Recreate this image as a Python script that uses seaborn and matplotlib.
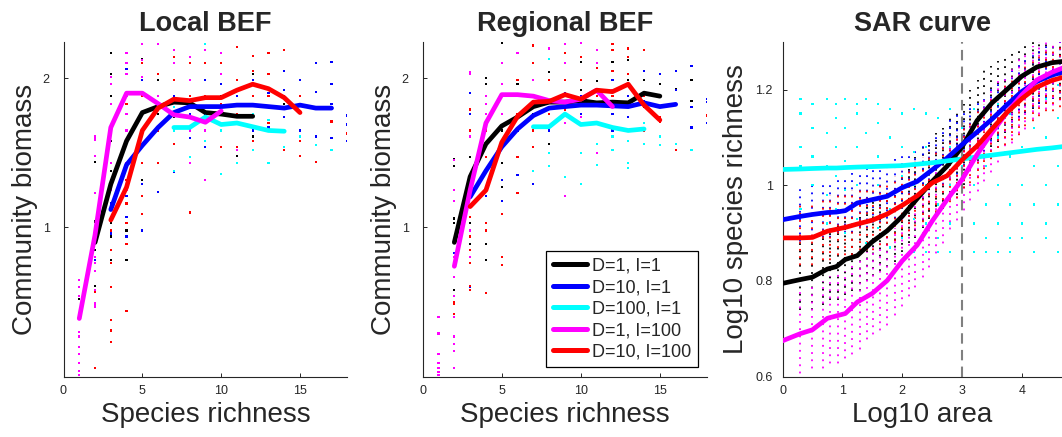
import pandas as pd
import matplotlib
matplotlib.use("Agg")
import matplotlib.pyplot as plt
from matplotlib.lines import Line2D
import seaborn as sns

# 五個處理組 (legend 順序) 與顏色
series_names = ["D=1, I=1", "D=10, I=1", "D=100, I=1", "D=1, I=100", "D=10, I=100"]
series_colors = ["#000000", "#0000ff", "#00ffff", "#ff00ff", "#ff0000"]

# ---------------- Local BEF：平均線 ----------------
local_x_black = [2, 3, 4, 5, 6, 7, 8, 9, 10, 11, 12]
local_y_black = [0.90, 1.29, 1.58, 1.77, 1.81, 1.84, 1.835, 1.77, 1.76, 1.745, 1.745]
local_x_blue = [3, 4, 5, 6, 7, 8, 9, 10, 11, 12, 13, 14, 15, 16, 17]
local_y_blue = [1.12, 1.42, 1.55, 1.67, 1.77, 1.81, 1.81, 1.81, 1.82, 1.82, 1.81, 1.80, 1.82, 1.80, 1.80]
local_x_cyan = [7, 8, 9, 10, 11, 12, 13, 14]
local_y_cyan = [1.67, 1.67, 1.74, 1.69, 1.70, 1.675, 1.65, 1.645]
local_x_magenta = [1, 2, 3, 4, 5, 6, 7, 8, 9, 10]
local_y_magenta = [0.39, 0.95, 1.67, 1.90, 1.90, 1.83, 1.755, 1.74, 1.705, 1.78]
local_x_red = [3, 4, 5, 6, 7, 8, 9, 10, 11, 12, 13, 14, 15]
local_y_red = [1.05, 1.27, 1.65, 1.80, 1.86, 1.85, 1.87, 1.87, 1.92, 1.96, 1.93, 1.87, 1.77]

# Local BEF：散點 {richness: [biomass, ...]}
local_dots_black = {1: [0.52], 2: [1.44, 1.04, 0.85, 0.61],
                    3: [2.17, 2.03, 1.88, 1.58, 1.38, 1.25, 1.14, 1.03, 0.94, 0.78],
                    4: [1.43, 1.21, 0.98, 0.78], 5: [2.13, 1.99, 1.76, 1.54, 1.32],
                    6: [1.99, 1.88, 1.76, 1.65], 7: [1.88, 1.74], 8: [1.88, 1.65], 9: [1.99, 1.70],
                    10: [1.88, 1.54], 11: [1.99, 1.48], 12: [2.03, 1.61], 13: [1.81], 14: [1.83]}
local_dots_blue = {2: [0.78, 0.71], 3: [1.29, 1.16, 1.07, 0.96],
                   4: [2.06, 1.88, 1.65, 1.43, 1.21, 1.07, 0.94], 5: [2.23, 1.99, 1.65, 1.29, 0.98],
                   6: [1.65, 1.43, 1.24], 7: [1.88, 1.65, 1.37], 8: [1.99, 1.76, 1.60],
                   9: [1.99, 1.76, 1.54], 10: [1.96, 1.76, 1.65], 11: [1.88, 1.70],
                   12: [1.99, 1.74, 1.65], 13: [1.90, 1.81, 1.67], 14: [2.05, 1.92, 1.74],
                   15: [1.99, 1.83, 1.65], 16: [2.10, 1.91, 1.61], 17: [2.11, 1.96, 1.83, 1.60],
                   18: [1.75, 1.69, 1.58]}
local_dots_cyan = {7: [1.81, 1.65, 1.38], 8: [1.65, 1.47], 9: [2.23, 1.88, 1.58, 1.32],
                   10: [1.76, 1.65, 1.36], 11: [1.76, 1.43], 12: [1.76, 1.52], 13: [1.72, 1.43],
                   14: [1.65, 1.54], 15: [1.61], 16: [1.55], 17: [1.52]}
local_dots_magenta = {1: [0.65, 0.60, 0.54, 0.30, 0.27, 0.20, 0.15, 0.09, 0.04, 0.01],
                      2: [1.61, 1.59, 1.48, 1.23, 0.80, 0.76, 0.71, 0.58, 0.49, 0.47],
                      3: [2.01, 1.96, 1.83, 1.65, 1.43, 1.25],
                      4: [2.17, 2.10, 2.03, 1.88, 1.76, 1.65, 1.43, 1.25],
                      5: [2.23, 2.12, 2.01, 1.88, 1.65], 6: [2.23, 2.03, 1.88], 7: [2.19, 2.10, 1.99],
                      8: [2.14, 1.99, 1.65, 1.43], 9: [2.19, 1.65, 1.32], 10: [2.17, 2.03], 11: [1.52]}
local_dots_red = {2: [0.57, 0.06], 3: [1.63, 1.32, 1.14, 0.98, 0.85, 0.76, 0.60, 0.38, 0.31, 0.23],
                  4: [1.83, 1.58, 1.32, 1.16, 1.03, 0.89, 0.44], 5: [2.10, 1.88, 1.65, 1.43, 1.21, 1.09],
                  6: [2.03, 1.83, 1.65, 1.43], 7: [2.14, 1.99, 1.76, 1.56], 8: [2.10, 1.88, 1.10],
                  9: [2.10, 1.88], 10: [2.10, 1.83, 1.54], 11: [2.21, 1.99, 1.76, 1.54],
                  12: [2.15, 2.05, 1.88, 1.58], 13: [2.17, 2.03, 1.88, 1.70],
                  14: [2.19, 1.88, 1.65, 1.52], 15: [1.88, 1.58, 1.48], 16: [1.44], 17: [1.71], 18: [1.63]}

# ---------------- Regional BEF：平均線 ----------------
reg_x_black = [2, 3, 4, 5, 6, 7, 8, 9, 10, 11, 12, 13, 14, 15]
reg_y_black = [0.90, 1.34, 1.56, 1.68, 1.74, 1.81, 1.84, 1.84, 1.85, 1.835, 1.84, 1.835, 1.90, 1.88]
reg_x_blue = [3, 4, 5, 6, 7, 8, 9, 10, 11, 12, 13, 14, 15, 16]
reg_y_blue = [1.205, 1.38, 1.54, 1.66, 1.75, 1.80, 1.81, 1.82, 1.82, 1.815, 1.81, 1.835, 1.81, 1.825]
reg_x_cyan = [7, 8, 9, 10, 11, 12, 13, 14]
reg_y_cyan = [1.675, 1.675, 1.76, 1.69, 1.70, 1.67, 1.65, 1.66]
reg_x_magenta = [2, 3, 4, 5, 6, 7, 8, 9, 10, 11, 12]
reg_y_magenta = [0.74, 1.25, 1.70, 1.89, 1.89, 1.88, 1.85, 1.84, 1.86, 1.92, 1.81]
reg_x_red = [3, 4, 5, 6, 7, 8, 9, 10, 11, 12, 13, 14, 15]
reg_y_red = [1.14, 1.25, 1.57, 1.745, 1.84, 1.845, 1.89, 1.86, 1.92, 1.91, 1.96, 1.82, 1.72]

# Regional BEF：散點
reg_dots_black = {2: [1.46, 1.41, 1.06, 1.03, 0.76, 0.58], 3: [1.47, 1.34, 1.03, 0.89, 0.80, 0.61],
                  4: [2.00, 1.96, 1.76, 0.98, 0.89, 0.78], 5: [2.24, 2.10, 1.88, 1.65, 1.43, 1.27],
                  6: [2.17, 1.96], 7: [1.76], 8: [2.04, 1.56], 9: [1.88], 10: [2.11, 1.92],
                  11: [1.98], 12: [2.11], 13: [2.12, 1.99], 14: [1.99, 1.81], 15: [2.03, 1.96],
                  16: [1.93], 17: [1.99, 1.85]}
reg_dots_blue = {2: [0.83], 3: [1.90, 1.76, 0.76, 0.60], 4: [1.38, 1.21], 5: [1.32, 1.18],
                 6: [1.65, 1.35], 7: [1.88, 1.54, 1.29], 8: [1.65], 9: [1.90, 1.76], 10: [1.88, 1.76],
                 11: [1.92, 1.70], 12: [1.99, 1.76, 1.65], 13: [1.88, 1.74], 14: [2.05, 1.85],
                 15: [2.03, 1.81], 16: [2.05, 1.92, 1.82], 17: [2.08, 1.81, 1.67], 18: [1.86, 1.84, 1.70]}
reg_dots_cyan = {7: [1.38], 8: [2.13, 1.50, 1.41], 9: [1.34], 10: [1.50, 1.29], 11: [1.56, 1.42],
                 12: [1.61, 1.52], 13: [1.58, 1.43, 1.40], 14: [1.70, 1.56], 15: [1.61, 1.55],
                 16: [1.56], 17: [1.52]}
reg_dots_magenta = {1: [0.40, 0.29, 0.15, 0.09, 0.06, 0.03, 0.01],
                    2: [1.45, 1.25, 1.18, 0.80, 0.67, 0.54, 0.40, 0.27, 0.22, 0.17, 0.06],
                    3: [2.04, 2.03, 1.61, 0.98, 0.80], 4: [1.88, 1.83, 1.76, 1.65, 1.38],
                    5: [2.10, 1.96, 1.76], 6: [2.17, 1.88], 7: [2.10, 1.99], 8: [2.20],
                    9: [2.23, 2.10, 1.70, 1.21], 10: [2.24, 1.99, 1.74], 11: [2.19, 2.10, 1.50], 12: [1.92]}
reg_dots_red = {2: [0.50, 0.49, 0.42], 3: [1.79, 1.65, 1.07, 0.94, 0.85, 0.76, 0.61, 0.58],
                4: [1.65, 1.47, 1.25, 1.03, 0.98, 0.56], 5: [1.88, 1.09, 0.80, 0.75],
                6: [1.99, 1.76, 1.47, 1.23], 7: [2.22, 2.10, 1.88, 1.65, 1.54], 8: [1.99, 1.76],
                9: [2.17, 1.99, 1.79], 10: [2.14, 1.99], 11: [2.07, 1.88], 12: [2.23, 2.19, 2.05, 1.88],
                13: [2.20, 2.14, 2.03], 14: [2.19, 1.88, 1.65], 15: [1.74, 1.71], 16: [1.52], 18: [1.75]}

# ---------------- SAR curve：平均線 ----------------
sar_line_x = [0, 0.3, 0.5, 0.75, 0.9, 1.05, 1.25, 1.5, 1.75, 2.0, 2.25, 2.5, 2.75,
              3.0, 3.25, 3.5, 3.75, 4.0, 4.25, 4.5, 4.7]
sar_y_black = [0.795, 0.803, 0.808, 0.825, 0.830, 0.845, 0.853, 0.882, 0.905, 0.935, 0.972, 1.008, 1.040,
               1.080, 1.135, 1.172, 1.200, 1.228, 1.247, 1.256, 1.259]
sar_y_blue = [0.928, 0.935, 0.939, 0.943, 0.944, 0.947, 0.963, 0.970, 0.977, 0.995, 1.008, 1.032, 1.057,
              1.085, 1.111, 1.138, 1.168, 1.196, 1.217, 1.230, 1.237]
sar_y_cyan = [1.033, 1.034, 1.035, 1.036, 1.036, 1.037, 1.038, 1.039, 1.040, 1.041, 1.044, 1.047, 1.051,
              1.055, 1.059, 1.063, 1.067, 1.071, 1.075, 1.078, 1.081]
sar_y_magenta = [0.675, 0.690, 0.698, 0.722, 0.727, 0.732, 0.756, 0.774, 0.801, 0.842, 0.875, 0.925, 0.970,
                 1.012, 1.064, 1.110, 1.152, 1.189, 1.220, 1.236, 1.246]
sar_y_red = [0.890, 0.890, 0.891, 0.904, 0.908, 0.912, 0.919, 0.927, 0.940, 0.958, 0.978, 1.005, 1.020,
             1.053, 1.082, 1.118, 1.152, 1.181, 1.205, 1.219, 1.226]

# SAR curve：每個取樣面積 (一欄) 的點雲範圍 (下緣, 上緣)
sar_col_x = [0, 0.29, 0.49, 0.68, 0.79, 0.93, 1.05, 1.16, 1.30, 1.41, 1.52, 1.63, 1.74, 1.88, 1.99, 2.11,
             2.22, 2.34, 2.45, 2.57, 2.68, 2.80, 2.91, 3.03, 3.14, 3.26, 3.37, 3.49, 3.60, 3.72, 3.83, 3.95,
             4.06, 4.18, 4.29, 4.41, 4.52, 4.64]
sar_lo_black = [0.73, 0.74, 0.74, 0.75, 0.76, 0.76, 0.77, 0.78, 0.78, 0.80, 0.81, 0.82, 0.83, 0.84, 0.86, 0.88,
                0.89, 0.91, 0.93, 0.94, 0.95, 0.97, 0.98, 1.00, 1.03, 1.05, 1.07, 1.08, 1.09, 1.11, 1.12, 1.14,
                1.15, 1.16, 1.17, 1.17, 1.18, 1.18]
sar_hi_black = [0.87, 0.88, 0.89, 0.90, 0.91, 0.92, 0.93, 0.94, 0.94, 0.96, 0.97, 0.98, 0.99, 1.00, 1.02, 1.04,
                1.06, 1.08, 1.09, 1.11, 1.12, 1.14, 1.15, 1.17, 1.20, 1.22, 1.24, 1.25, 1.26, 1.27, 1.28, 1.29,
                1.30, 1.30, 1.30, 1.30, 1.30, 1.30]
sar_lo_blue = [0.87, 0.87, 0.88, 0.88, 0.88, 0.89, 0.89, 0.89, 0.90, 0.90, 0.91, 0.91, 0.92, 0.92, 0.94, 0.94,
               0.95, 0.96, 0.97, 0.98, 0.99, 1.00, 1.01, 1.03, 1.04, 1.05, 1.06, 1.08, 1.09, 1.10, 1.12, 1.13,
               1.14, 1.15, 1.16, 1.17, 1.17, 1.18]
sar_hi_blue = [1.00, 1.00, 1.01, 1.01, 1.01, 1.02, 1.02, 1.03, 1.03, 1.04, 1.04, 1.04, 1.05, 1.06, 1.07, 1.07,
               1.08, 1.09, 1.10, 1.11, 1.12, 1.14, 1.15, 1.16, 1.17, 1.18, 1.19, 1.21, 1.22, 1.23, 1.25, 1.26,
               1.27, 1.28, 1.29, 1.30, 1.30, 1.30]
sar_lo_magenta = [0.60, 0.60, 0.61, 0.61, 0.62, 0.62, 0.63, 0.64, 0.65, 0.67, 0.68, 0.69, 0.70, 0.72, 0.74, 0.76,
                  0.78, 0.80, 0.82, 0.85, 0.87, 0.90, 0.92, 0.94, 0.96, 0.98, 1.00, 1.02, 1.04, 1.06, 1.08, 1.10,
                  1.11, 1.13, 1.14, 1.15, 1.16, 1.17]
sar_hi_magenta = [0.77, 0.78, 0.79, 0.80, 0.81, 0.82, 0.82, 0.84, 0.85, 0.86, 0.87, 0.88, 0.89, 0.91, 0.93, 0.95,
                  0.97, 0.99, 1.01, 1.03, 1.06, 1.08, 1.10, 1.11, 1.13, 1.15, 1.18, 1.20, 1.22, 1.23, 1.25, 1.27,
                  1.28, 1.29, 1.30, 1.30, 1.30, 1.30]
sar_lo_red = [0.83, 0.83, 0.83, 0.84, 0.84, 0.85, 0.85, 0.85, 0.86, 0.86, 0.86, 0.87, 0.87, 0.88, 0.89, 0.90,
              0.91, 0.92, 0.93, 0.94, 0.95, 0.96, 0.97, 0.99, 1.00, 1.01, 1.03, 1.05, 1.06, 1.08, 1.09, 1.10,
              1.12, 1.13, 1.14, 1.15, 1.15, 1.16]
sar_hi_red = [0.96, 0.96, 0.96, 0.97, 0.98, 0.98, 0.98, 0.99, 0.99, 0.99, 1.00, 1.00, 1.01, 1.02, 1.03, 1.04,
              1.05, 1.06, 1.07, 1.08, 1.09, 1.10, 1.11, 1.13, 1.14, 1.16, 1.17, 1.19, 1.20, 1.22, 1.23, 1.24,
              1.26, 1.27, 1.28, 1.29, 1.29, 1.29]

# D=100 的點較稀疏，逐點列出
sar_dot_x = [0, 0.3, 0.5, 0.75, 0.9, 1.05, 1.25, 1.4, 1.6, 1.8, 2.0, 2.2,
             2.4, 2.6, 2.8, 3.0, 3.2, 3.4, 3.6, 3.8, 4.0, 4.2, 4.4, 4.6]
sar_dots_cyan = [[0.92, 1.00, 1.08, 1.12, 1.16], [0.95, 1.04, 1.08, 1.15, 1.18], [0.89, 1.00, 1.06, 1.12, 1.17],
                 [0.92, 0.98, 1.04, 1.11, 1.18], [0.95, 1.02, 1.08, 1.14, 1.17], [0.90, 0.99, 1.05, 1.12, 1.18],
                 [0.93, 1.00, 1.08, 1.15, 1.17], [0.88, 0.97, 1.04, 1.11, 1.18], [0.91, 1.00, 1.06, 1.13, 1.17],
                 [0.87, 0.95, 1.04, 1.10, 1.16], [0.89, 0.96, 1.02, 1.08, 1.15], [0.86, 0.93, 1.00, 1.07, 1.16],
                 [0.86, 0.92, 1.00, 1.08, 1.15], [0.86, 0.89, 0.96, 1.05, 1.14], [0.86, 0.92, 1.00, 1.08, 1.16],
                 [0.86, 0.89, 0.96, 1.04, 1.12], [0.86, 0.92, 1.00, 1.08, 1.16], [0.86, 0.89, 0.96, 1.04, 1.13],
                 [0.86, 0.92, 1.00, 1.10, 1.17], [0.86, 0.89, 0.96, 1.06, 1.15], [0.89, 0.92, 1.00, 1.08, 1.18],
                 [0.86, 0.96, 1.04, 1.12, 1.20], [0.89, 0.92, 1.00, 1.10, 1.18], [0.86, 0.96, 1.04, 1.14, 1.21]]

sar_cutoff = 3.0  # 虛線位置


def lines_frame(xs_list, ys_list):
    rows = []
    for name, xs, ys in zip(series_names, xs_list, ys_list):
        for x, y in zip(xs, ys):
            rows.append((name, x, y))
    return pd.DataFrame(rows, columns=["series", "x", "y"])


def dots_frame(dot_dicts, names=series_names):
    rows = []
    for name, cols in zip(names, dot_dicts):
        for x, ys in cols.items():
            for y in ys:
                rows.append((name, x, y))
    return pd.DataFrame(rows, columns=["series", "x", "y"])


local_lines = lines_frame([local_x_black, local_x_blue, local_x_cyan, local_x_magenta, local_x_red],
                          [local_y_black, local_y_blue, local_y_cyan, local_y_magenta, local_y_red])
local_dots = dots_frame([local_dots_black, local_dots_blue, local_dots_cyan, local_dots_magenta, local_dots_red])
reg_lines = lines_frame([reg_x_black, reg_x_blue, reg_x_cyan, reg_x_magenta, reg_x_red],
                        [reg_y_black, reg_y_blue, reg_y_cyan, reg_y_magenta, reg_y_red])
reg_dots = dots_frame([reg_dots_black, reg_dots_blue, reg_dots_cyan, reg_dots_magenta, reg_dots_red])
sar_lines = lines_frame([sar_line_x] * 5, [sar_y_black, sar_y_blue, sar_y_cyan, sar_y_magenta, sar_y_red])
sar_dots = dots_frame([dict(zip(sar_dot_x, sar_dots_cyan))], names=[series_names[2]])

palette = dict(zip(series_names, series_colors))

sns.set_style("ticks")
plt.rcParams["font.family"] = ["Liberation Sans", "DejaVu Sans"]

axis_gray = "#262626"
fig = plt.figure(figsize=(10.62, 4.37), dpi=100)
ax1 = fig.add_axes([63.5 / 1062, 0.138, 283.8 / 1062, 0.7666])
ax2 = fig.add_axes([422.7 / 1062, 0.138, 284.6 / 1062, 0.7666])
ax3 = fig.add_axes([782.5 / 1062, 0.138, 279.5 / 1062, 0.7666])

# SAR 點雲：以點狀垂直線表示每欄的分布，各組錯開相位交錯顯示
sar_ranges = [(sar_lo_black, sar_hi_black, series_colors[0], 0),
              (sar_lo_blue, sar_hi_blue, series_colors[1], 1),
              (sar_lo_magenta, sar_hi_magenta, series_colors[3], 2),
              (sar_lo_red, sar_hi_red, series_colors[4], 3)]
for lo, hi, col, phase in sar_ranges:
    ax3.vlines(sar_col_x, lo, hi, colors=col, linewidth=1.3,
               linestyles=[(phase, (1.0, 3.0))], zorder=1)

panels = [(ax1, local_dots, local_lines, "Local BEF"),
          (ax2, reg_dots, reg_lines, "Regional BEF"),
          (ax3, sar_dots, sar_lines, "SAR curve")]

for ax, dots, lines, title in panels:
    sns.scatterplot(data=dots, x="x", y="y", hue="series", palette=palette,
                    marker="s", s=2.5, linewidth=0, legend=False, ax=ax, zorder=1)
    sns.lineplot(data=lines, x="x", y="y", hue="series", hue_order=series_names, palette=palette,
                 linewidth=3.4, estimator=None, sort=False, legend=False, ax=ax, zorder=3)
    ax.set_title(title, fontsize=19.5, fontweight="bold", pad=8)
    sns.despine(ax=ax)
    for sp in ["left", "bottom"]:
        ax.spines[sp].set_color(axis_gray)
        ax.spines[sp].set_linewidth(0.8)
    ax.tick_params(direction="in", length=3, width=0.7, colors=axis_gray, labelsize=9)

# BEF 兩張圖的座標軸
for ax in [ax1, ax2]:
    ax.set_xlim(0, 18)
    ax.set_ylim(0, 2.245)
    ax.set_xticks([0, 5, 10, 15])
    ax.set_yticks([1, 2])
    ax.tick_params(axis="y", pad=10)
    ax.tick_params(axis="x", pad=6)
    ax.set_xlabel("Species richness", fontsize=20)
    ax.set_ylabel("Community biomass", fontsize=20)
    ax.yaxis.set_label_coords(-0.09, 0.5)
    ax.xaxis.set_label_coords(0.5, -0.075)

# SAR 圖
ax3.axvline(sar_cutoff, color="#808080", linestyle=(0, (5, 3)), linewidth=1.5, zorder=2)
ax3.set_xlim(0, 4.67)
ax3.set_ylim(0.6, 1.3)
ax3.set_xticks([0, 1, 2, 3, 4])
ax3.set_yticks([0.6, 0.8, 1.0, 1.2])
ax3.set_yticklabels(["0.6", "0.8", "1", "1.2"])
ax3.tick_params(axis="y", pad=7)
ax3.tick_params(axis="x", pad=6)
ax3.set_xlabel("Log10 area", fontsize=20)
ax3.set_ylabel("Log10 species richness", fontsize=20)
ax3.yaxis.set_label_coords(-0.12, 0.5)
ax3.xaxis.set_label_coords(0.5, -0.075)

# 圖例放在 Regional BEF 右下角
handles = [Line2D([0], [0], color=c, linewidth=3.6) for c in series_colors]
leg = ax2.legend(handles, series_names, loc="lower right", bbox_to_anchor=(0.967, 0.029),
                 borderaxespad=0, fontsize=13, frameon=True, fancybox=False,
                 edgecolor="black", framealpha=1, handlelength=1.9, handletextpad=0.3,
                 labelspacing=0.25, borderpad=0.35)
leg.get_frame().set_linewidth(0.9)

fig.savefig("out.png", dpi=100)
